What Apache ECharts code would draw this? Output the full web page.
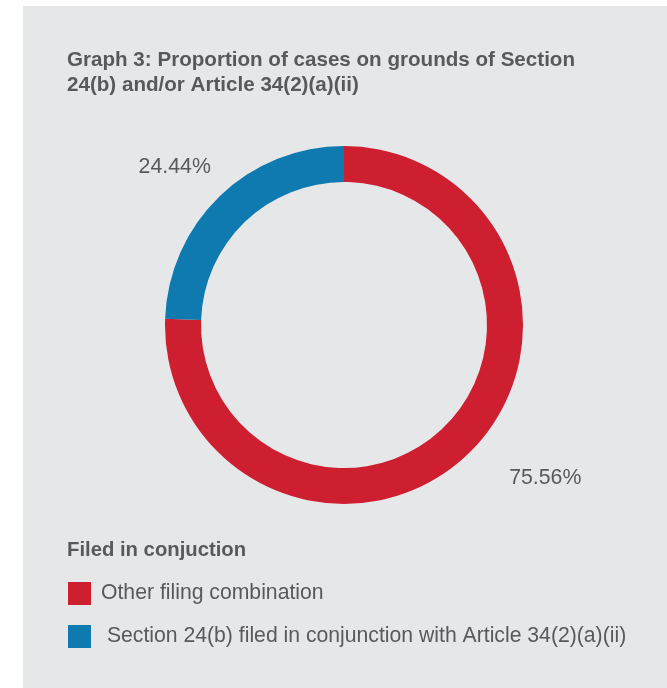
<!DOCTYPE html>
<html>
<head>
<meta charset="utf-8">
<script src="https://cdn.jsdelivr.net/npm/echarts@6/dist/echarts.min.js"></script>
<style>
html,body{margin:0;padding:0;background:#ffffff;}
#chart{width:667px;height:688px;}
</style>
</head>
<body>
<div id="chart"></div>
<script>
var chartTitle = "Graph 3: Proportion of cases on grounds of Section\n24(b) and/or Article 34(2)(a)(ii)";
var legendTitle = "Filed in conjuction";
var categories = ["Other filing combination", "Section 24(b) filed in conjunction with Article 34(2)(a)(ii)"];
var values = [75.56, 24.44];
var colors = ["#cd1f30", "#0f7aaf"];

var chart = echarts.init(document.getElementById('chart'), null, {renderer: 'canvas'});
var textColor = '#58595b';
var fontFam = '"Liberation Sans", Arial, Helvetica, sans-serif';
var labelOffsets = [[0, 3], [32, -8]];

chart.setOption({
  backgroundColor: 'transparent',
  animation: false,
  graphic: [{
    type: 'rect', z: -10, silent: true,
    shape: {x: 23, y: 6, width: 644, height: 682},
    style: {fill: '#e6e7e9'}
  }],
  title: [{
    text: chartTitle,
    left: 67, top: 48, padding: 0,
    textStyle: {fontFamily: fontFam, fontSize: 20.6, fontWeight: 'bold', color: textColor, lineHeight: 25}
  }, {
    text: legendTitle,
    left: 67, top: 540, padding: 0,
    textStyle: {fontFamily: fontFam, fontSize: 20.3, fontWeight: 'bold', color: textColor}
  }],
  legend: {
    orient: 'vertical',
    left: 68, top: 582, padding: 0,
    itemWidth: 23, itemHeight: 23, itemGap: 20,
    icon: 'rect',
    data: categories,
    formatter: function (name) { return name === categories[1] ? ' ' + name : name; },
    textStyle: {fontFamily: fontFam, fontSize: 21.2, color: textColor, padding: [0, 0, 0, 5]}
  },
  series: [{
    type: 'pie',
    center: [344, 325],
    radius: [143, 179],
    startAngle: 90,
    clockwise: true,
    silent: true,
    label: {
      show: true,
      position: 'outside',
      formatter: '{c}%',
      fontFamily: fontFam, fontSize: 21.3, color: textColor
    },
    labelLine: {show: false, length: 30, length2: 15},
    labelLayout: function (params) {
      var o = labelOffsets[params.dataIndex];
      return {dx: o[0], dy: o[1]};
    },
    data: categories.map(function (c, i) {
      return {name: c, value: values[i], itemStyle: {color: colors[i]}};
    })
  }]
});
</script>
</body>
</html>
